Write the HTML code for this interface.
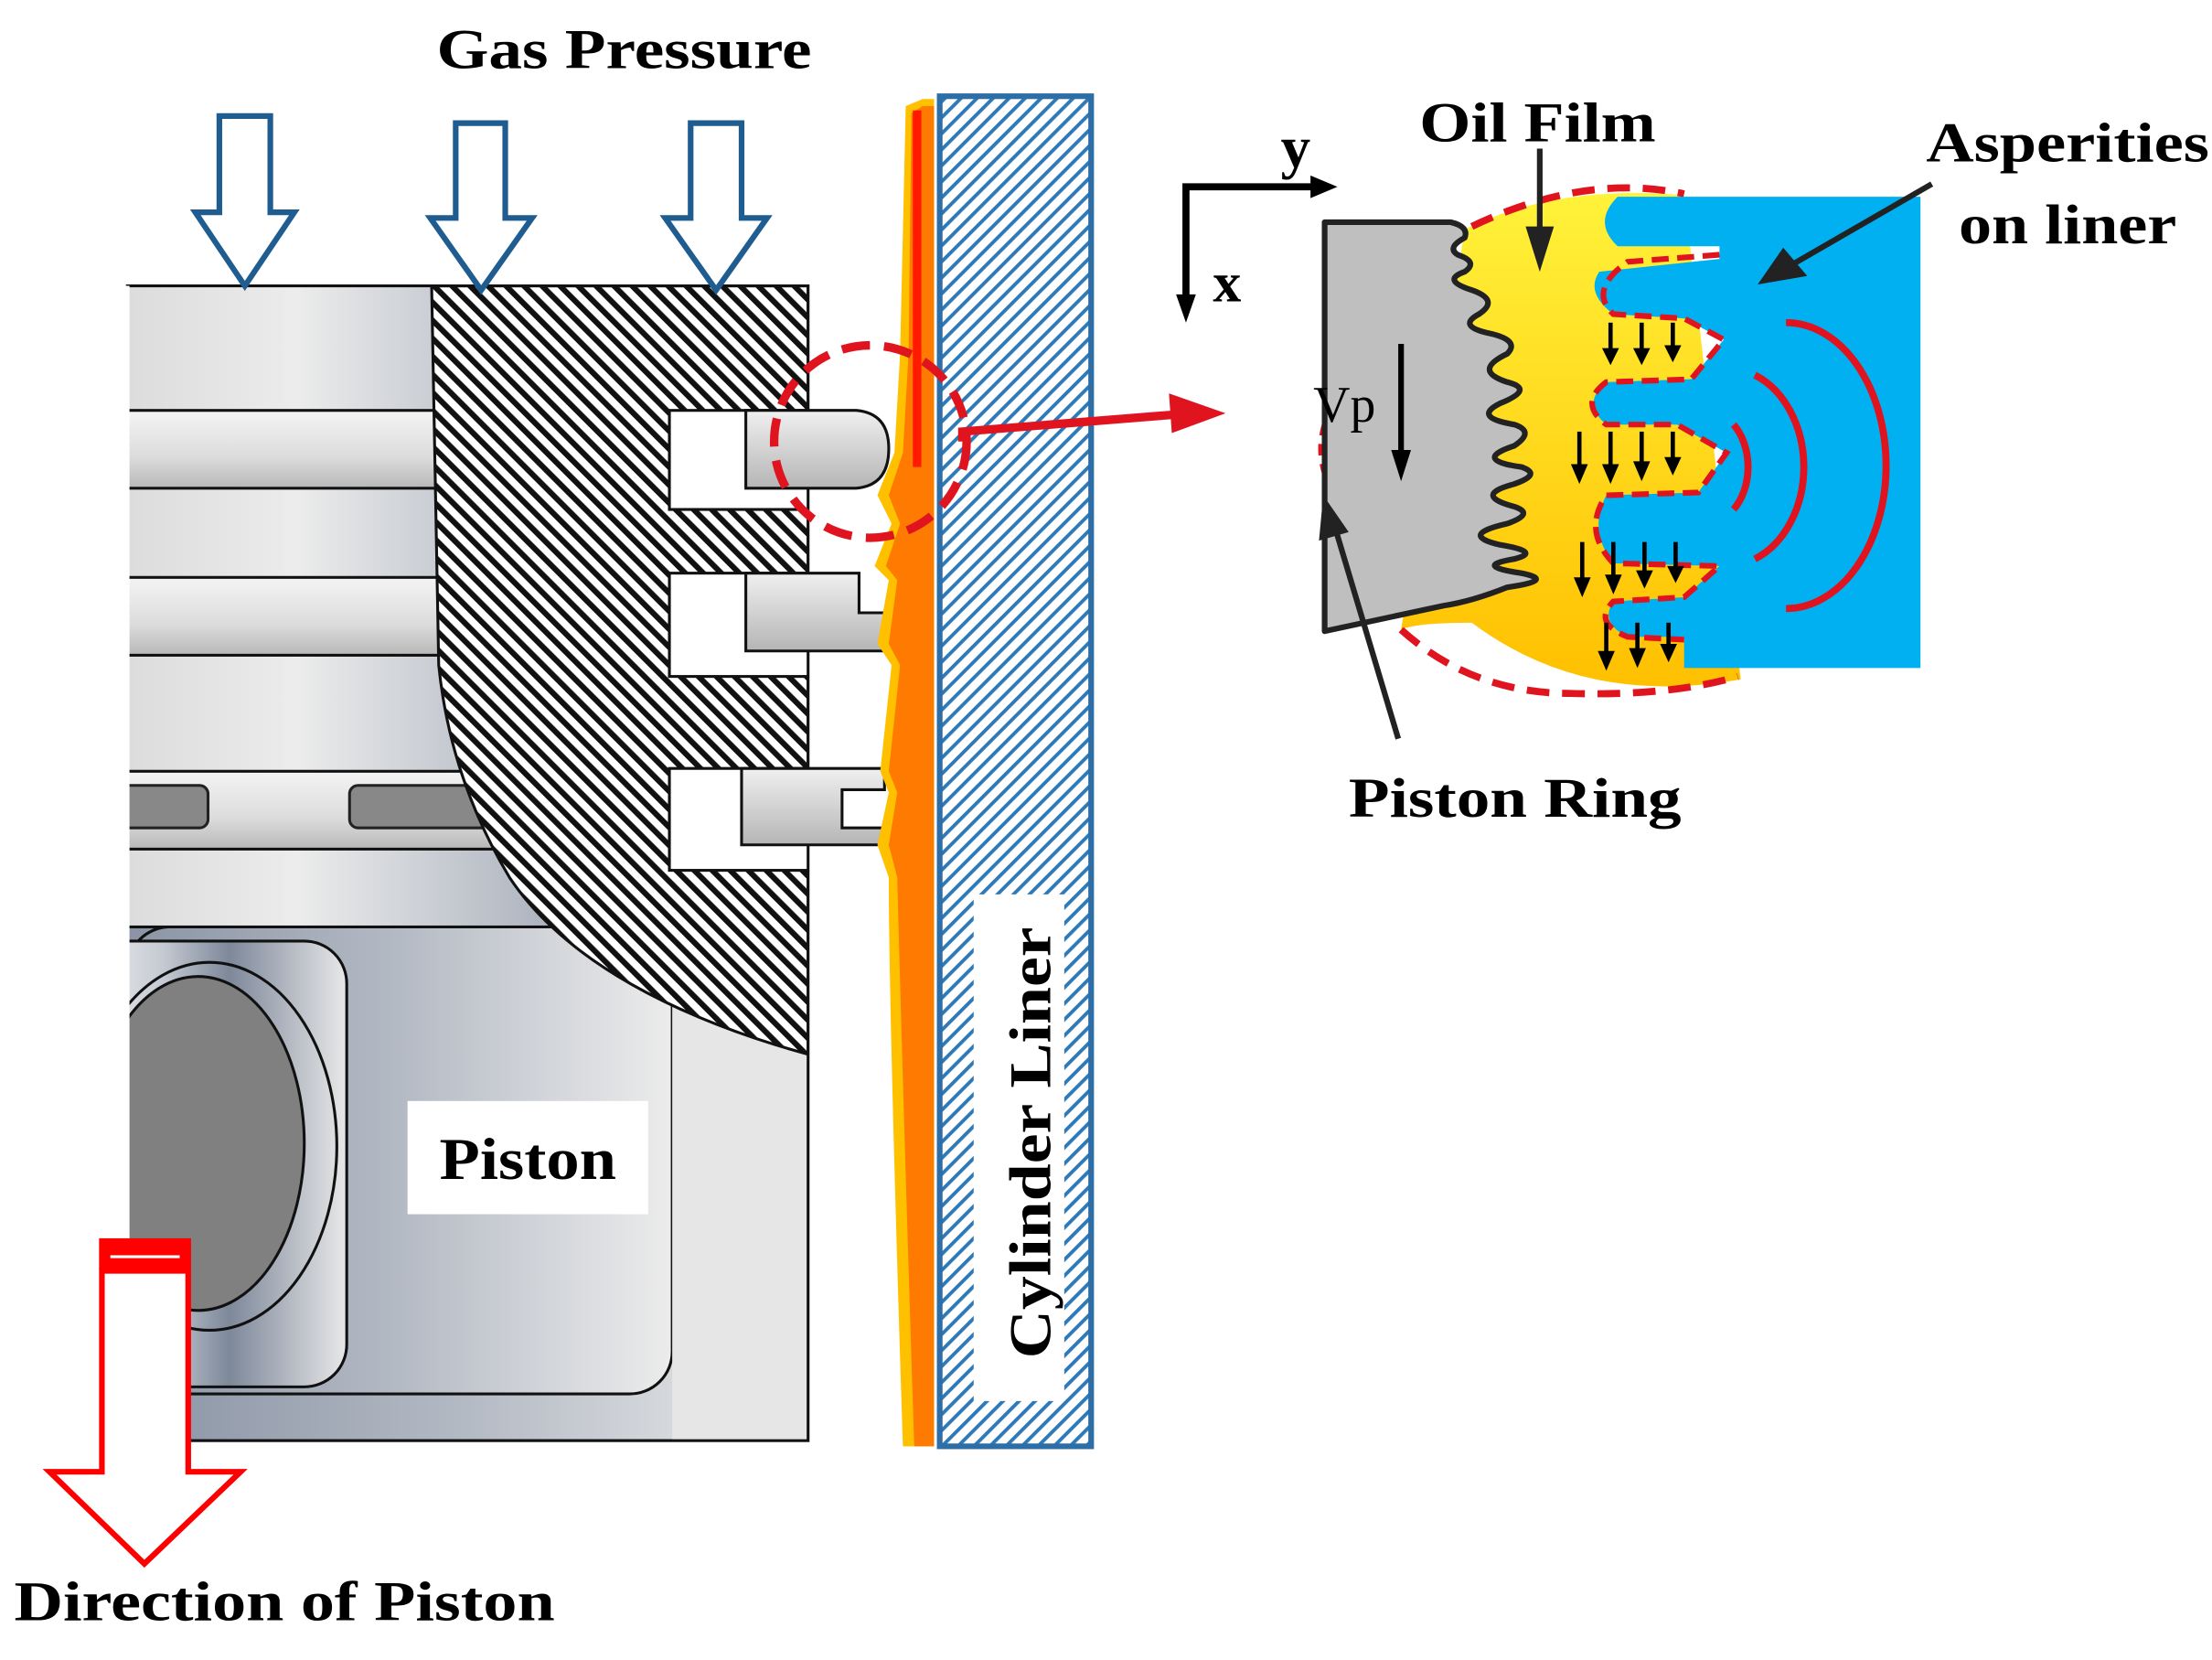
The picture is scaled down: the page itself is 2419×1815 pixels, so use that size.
<!DOCTYPE html>
<html><head><meta charset="utf-8"><style>html,body{margin:0;padding:0;background:#fff}svg{display:block}</style></head>
<body>
<svg width="2419" height="1815" viewBox="0 0 1563 1173" preserveAspectRatio="none" xmlns="http://www.w3.org/2000/svg" font-family="Liberation Serif, serif" font-weight="bold">
<defs>
<pattern id="hb" patternUnits="userSpaceOnUse" width="9" height="9" patternTransform="rotate(-45)"><rect width="9" height="9" fill="#fff"/><rect width="4" height="9" fill="#111"/></pattern>
<pattern id="hbl" patternUnits="userSpaceOnUse" width="8" height="8" patternTransform="rotate(45)"><rect width="8" height="8" fill="#fff"/><rect width="2.5" height="8" fill="#2e7ab8"/></pattern>
<linearGradient id="g1" x1="0" x2="1"><stop offset="0" stop-color="#dcdcdc"/><stop offset="0.25" stop-color="#ececec"/><stop offset="0.65" stop-color="#a8afbb"/><stop offset="1" stop-color="#7a8495"/></linearGradient>
<linearGradient id="gb" x1="0" y1="0" x2="0" y2="1"><stop offset="0" stop-color="#f4f4f4"/><stop offset="0.6" stop-color="#dcdcdc"/><stop offset="1" stop-color="#b8b8b8"/></linearGradient>
<linearGradient id="g2" x1="0" x2="1"><stop offset="0" stop-color="#f0f0f0"/><stop offset="0.3" stop-color="#c5cad2"/><stop offset="0.55" stop-color="#7d889a"/><stop offset="1" stop-color="#e8e8e8"/></linearGradient>
<linearGradient id="g3" x1="0" x2="1"><stop offset="0" stop-color="#8a94a5"/><stop offset="0.5" stop-color="#b4bac4"/><stop offset="1" stop-color="#ececec"/></linearGradient>
<linearGradient id="oil" x1="0" y1="0" x2="0" y2="1"><stop offset="0" stop-color="#fff23a"/><stop offset="1" stop-color="#ffc000"/></linearGradient>
<linearGradient id="ring" x1="0" y1="0" x2="0" y2="1"><stop offset="0" stop-color="#f0f0f0"/><stop offset="1" stop-color="#b5b5b5"/></linearGradient>
<clipPath id="pc"><rect x="90" y="202" width="481" height="816"/></clipPath>
</defs>

<text x="441" y="48" font-size="40" text-anchor="middle" textLength="265" lengthAdjust="spacingAndGlyphs">Gas Pressure</text>

<g clip-path="url(#pc)">
<rect x="90" y="202" width="481" height="816" fill="url(#g1)"/>
<rect x="90" y="290" width="230" height="55" fill="url(#gb)" stroke="#111" stroke-width="2"/>
<rect x="90" y="408" width="230" height="55" fill="url(#gb)" stroke="#111" stroke-width="2"/>
<rect x="90" y="545" width="260" height="55" fill="url(#gb)" stroke="#111" stroke-width="2"/>
<rect x="70" y="555" width="77" height="30" rx="6" fill="#888" stroke="#222" stroke-width="2"/>
<rect x="247" y="555" width="100" height="30" rx="6" fill="#888" stroke="#222" stroke-width="2"/>
<rect x="90" y="655" width="481" height="363" fill="url(#g3)" stroke="#111" stroke-width="2"/>
<rect x="90" y="655" width="385" height="330" rx="30" fill="url(#g3)" stroke="#111" stroke-width="2"/>
<rect x="475" y="690" width="96" height="328" fill="#e6e6e6"/>
<rect x="60" y="665" width="185" height="315" rx="30" fill="url(#g2)" stroke="#111" stroke-width="2"/>
<ellipse cx="148" cy="810" rx="90" ry="130" fill="none" stroke="#111" stroke-width="2"/>
<ellipse cx="140" cy="808" rx="75" ry="118" fill="#808080" stroke="#111" stroke-width="2"/>
<path d="M305 202 L571 202 L571 745 C480 720 400 680 360 620 C330 570 315 520 310 470 Z" fill="url(#hb)" stroke="#111" stroke-width="2"/>
<rect x="473" y="290" width="100" height="70" fill="#fff" stroke="#111" stroke-width="2"/>
<rect x="473" y="405" width="100" height="73" fill="#fff" stroke="#111" stroke-width="2"/>
<rect x="473" y="543" width="100" height="72" fill="#fff" stroke="#111" stroke-width="2"/>
</g>
<rect x="90" y="202" width="481" height="816" fill="none" stroke="#111" stroke-width="2"/>
<line x1="90" y1="202" x2="90" y2="1018" stroke="#fff" stroke-width="3"/>
<path d="M527 290 L605 290 Q628 292 628 317 Q628 343 605 345 L527 345 Z" fill="url(#ring)" stroke="#111" stroke-width="2"/>
<path d="M527 405 L607 405 L607 433 L626 433 L626 460 L527 460 Z" fill="url(#ring)" stroke="#111" stroke-width="2"/>
<path d="M524 543 L625 543 L625 558 L595 558 L595 585 L625 585 L625 597 L524 597 Z" fill="url(#ring)" stroke="#111" stroke-width="2"/>

<rect x="288" y="778" width="170" height="80" fill="#fff"/>
<text x="373" y="833" font-size="42" text-anchor="middle" textLength="125" lengthAdjust="spacingAndGlyphs">Piston</text>

<g fill="#fff" stroke="#1f5d91" stroke-width="4">
<path d="M155 82 L191 82 L191 150 L208 150 L173 202 L138 150 L155 150 Z"/>
<path d="M322 87 L357 87 L357 154 L376 154 L340 205 L304 154 L322 154 Z"/>
<path d="M488 87 L524 87 L524 154 L542 154 L506 205 L470 154 L488 154 Z"/>
</g>

<path d="M640 75 L652 70 L660 70 L660 1022 L638 1022 C634 900 628 700 628 620 L620 597 L628 560 L622 545 L630 470 L620 455 L628 410 L618 400 L630 370 L620 350 L632 320 L636 250 Z" fill="#ffc000"/>
<path d="M644 80 L652 75 L660 75 L660 1022 L646 1022 C642 900 636 700 634 620 L628 597 L634 560 L628 545 L636 470 L628 455 L634 410 L626 400 L636 370 L628 350 L638 320 L642 250 Z" fill="#ff7a00"/>
<path d="M648 78 L648 330" stroke="#ff1a00" stroke-width="6" fill="none"/>
<rect x="664" y="68" width="107" height="954" fill="url(#hbl)" stroke="#2e6ea6" stroke-width="4"/>
<rect x="688" y="632" width="64" height="358" fill="#fff"/>
<text transform="translate(742,960) rotate(-90)" font-size="42" textLength="305" lengthAdjust="spacingAndGlyphs">Cylinder Liner</text>

<circle cx="615" cy="312" r="68" fill="none" stroke="#e0141e" stroke-width="6" stroke-dasharray="20 10"/>
<path d="M680 312 L680 305 L830 293" stroke="#e0141e" stroke-width="6" fill="none"/>
<path d="M826 278 L866 292 L828 306 Z" fill="#e0141e"/>

<path d="M72 898 L133 898 L133 1040 L170 1040 L102 1105 L35 1040 L72 1040 Z" fill="#fff" stroke="#f00" stroke-width="4"/>
<rect x="70" y="875" width="65" height="22" fill="#f00"/>
<line x1="78" y1="888" x2="127" y2="888" stroke="#fff" stroke-width="2"/>
<text x="10" y="1145" font-size="40" textLength="382" lengthAdjust="spacingAndGlyphs">Direction of Piston</text>

<path d="M1035 162 Q1100 130 1190 138 L1230 480 Q1120 500 1040 440 Q1000 440 990 445 Z" fill="url(#oil)"/>
<path d="M1040 160 Q1120 122 1190 137" stroke="#e0141e" stroke-width="5" fill="none" stroke-dasharray="16 9"/>
<path d="M990 445 Q1040 490 1110 490 Q1180 492 1228 478" stroke="#e0141e" stroke-width="5" fill="none" stroke-dasharray="16 9"/>
<path d="M936 300 Q930 320 938 340" stroke="#e0141e" stroke-width="4" fill="none" stroke-dasharray="8 6"/>
<path d="M1143 139 L1357 139 L1357 472 L1190 472 L1190 450 L1150 450 Q1130 440 1140 425 L1190 422 L1215 400 L1140 398 Q1122 375 1135 350 L1200 348 L1220 320 L1185 300 L1135 300 Q1117 285 1135 270 L1195 268 L1218 240 L1190 225 L1140 222 Q1120 207 1130 192 L1215 183 L1215 174 L1143 174 Q1125 157 1143 139 Z" fill="#00b0f0"/>
<path d="M1215 180 L1150 185 Q1122 205 1140 222 L1190 225 L1218 240 L1195 268 L1135 270 Q1115 285 1135 300 L1185 300 L1220 320 L1200 348 L1135 350 Q1118 375 1140 398 L1215 400 L1190 422 L1140 425 Q1125 440 1150 450 L1190 452" fill="none" stroke="#e0141e" stroke-width="4" stroke-dasharray="12 6"/>
<g fill="none" stroke="#e0141e" stroke-width="5">
<path d="M1225 300 A30 40 0 0 1 1225 360"/>
<path d="M1240 265 A55 70 0 0 1 1240 395"/>
<path d="M1262 228 A70 100 0 0 1 1262 430"/>
</g>
<g stroke="#000" stroke-width="3">
<line x1="1138" y1="228" x2="1138" y2="248"/><line x1="1160" y1="228" x2="1160" y2="248"/><line x1="1182" y1="228" x2="1182" y2="246"/>
<line x1="1116" y1="305" x2="1116" y2="330"/><line x1="1138" y1="305" x2="1138" y2="330"/><line x1="1160" y1="305" x2="1160" y2="328"/><line x1="1182" y1="305" x2="1182" y2="325"/>
<line x1="1118" y1="383" x2="1118" y2="410"/><line x1="1140" y1="383" x2="1140" y2="408"/><line x1="1162" y1="383" x2="1162" y2="405"/><line x1="1184" y1="383" x2="1184" y2="402"/>
<line x1="1135" y1="440" x2="1135" y2="462"/><line x1="1157" y1="440" x2="1157" y2="460"/><line x1="1179" y1="440" x2="1179" y2="457"/>
</g>
<g fill="#000">
<path d="M1132 246 L1144 246 L1138 258Z"/><path d="M1154 246 L1166 246 L1160 258Z"/><path d="M1176 244 L1188 244 L1182 256Z"/>
<path d="M1110 328 L1122 328 L1116 342Z"/><path d="M1132 328 L1144 328 L1138 342Z"/><path d="M1154 326 L1166 326 L1160 340Z"/><path d="M1176 323 L1188 323 L1182 336Z"/>
<path d="M1112 408 L1124 408 L1118 422Z"/><path d="M1134 406 L1146 406 L1140 420Z"/><path d="M1156 403 L1168 403 L1162 416Z"/><path d="M1178 400 L1190 400 L1184 412Z"/>
<path d="M1129 460 L1141 460 L1135 474Z"/><path d="M1151 458 L1163 458 L1157 472Z"/><path d="M1173 455 L1185 455 L1179 468Z"/>
</g>
<path d="M936 157 L1025 157 Q1038 160 1035 168 Q1022 175 1030 180 Q1045 185 1035 192 Q1018 198 1040 205 Q1060 212 1045 222 Q1030 230 1050 235 Q1075 240 1065 250 Q1040 262 1065 270 Q1085 275 1060 285 Q1040 295 1070 300 Q1085 305 1070 315 Q1040 325 1075 330 Q1090 335 1070 342 Q1040 350 1070 358 Q1085 363 1065 370 Q1030 378 1060 385 Q1090 390 1070 395 Q1040 400 1075 405 Q1100 410 1065 415 Q1040 425 1020 428 L936 446 Z" fill="#bfbfbf" stroke="#222" stroke-width="4" stroke-linejoin="round"/>

<g stroke="#000" stroke-width="5" fill="none"><path d="M838 218 L838 132 L930 132"/></g>
<path d="M926 124 L945 132 L926 140 Z" fill="#000"/>
<path d="M831 208 L838 228 L845 208 Z" fill="#000"/>
<text x="905" y="118" font-size="42">y</text>
<text x="857" y="213" font-size="40">x</text>
<text x="928" y="298" font-size="36" font-weight="normal">Vp</text>
<line x1="990" y1="243" x2="990" y2="325" stroke="#000" stroke-width="4"/>
<path d="M983 318 L990 340 L997 318 Z" fill="#000"/>

<line x1="1088" y1="105" x2="1088" y2="170" stroke="#222" stroke-width="4"/>
<path d="M1078 160 L1098 160 L1088 192 Z" fill="#222"/>
<line x1="1365" y1="130" x2="1268" y2="186" stroke="#222" stroke-width="4"/>
<path d="M1260 175 L1277 195 L1242 201 Z" fill="#222"/>
<line x1="988" y1="522" x2="944" y2="375" stroke="#222" stroke-width="4"/>
<path d="M932 382 L953 376 L935 350 Z" fill="#222"/>

<text x="1003" y="100" font-size="40" textLength="167" lengthAdjust="spacingAndGlyphs">Oil Film</text>
<text x="1361" y="114" font-size="40" textLength="200" lengthAdjust="spacingAndGlyphs">Asperities</text>
<text x="1384" y="172" font-size="40" textLength="154" lengthAdjust="spacingAndGlyphs">on liner</text>
<text x="953" y="577" font-size="40" textLength="235" lengthAdjust="spacingAndGlyphs">Piston Ring</text>
</svg>
</body></html>
